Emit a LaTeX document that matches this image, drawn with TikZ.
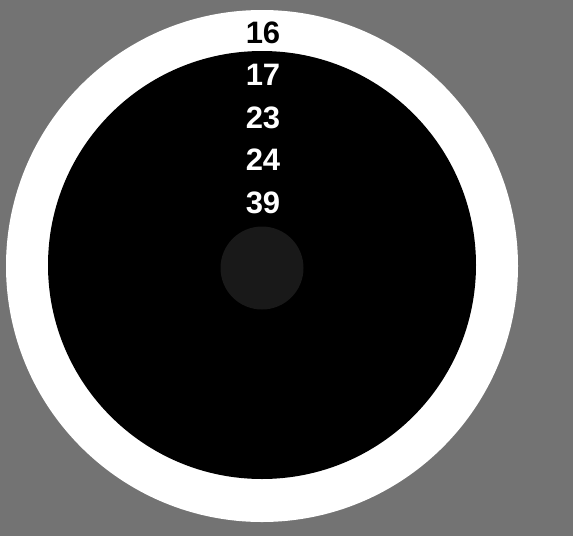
\documentclass[tikz,border=0pt]{standalone}
\usepackage{fontspec}
\setmainfont{Liberation Sans}
\definecolor{bggray}{gray}{0.45}
\definecolor{coregray}{gray}{0.1}
\begin{document}
\begin{tikzpicture}[x=1pt,y=-1pt,
  num/.style={font=\fontsize{31}{33}\selectfont\bfseries, inner sep=0pt, anchor=center},
  whitenum/.style={num, text=white},
  blacknum/.style={num, text=black}]
\fill[bggray] (0,0) rectangle (573,536);
\useasboundingbox (0,0) rectangle (573,536);
\node[circle, fill=white, minimum size=512pt, inner sep=0pt] (outer) at (262,266) {};
\node[circle, fill=black, minimum size=428pt, inner sep=0pt] (inner) at (262,265) {};
\node[circle, fill=coregray, minimum size=83pt, inner sep=0pt] (core) at (262,268) {};
\node[blacknum] (n16) at (263,33) {16};
\node[whitenum] (n17) at (263,75) {17};
\node[whitenum] (n23) at (263,118) {23};
\node[whitenum] (n24) at (263,160) {24};
\node[whitenum] (n39) at (263,203) {39};
\end{tikzpicture}
\end{document}
